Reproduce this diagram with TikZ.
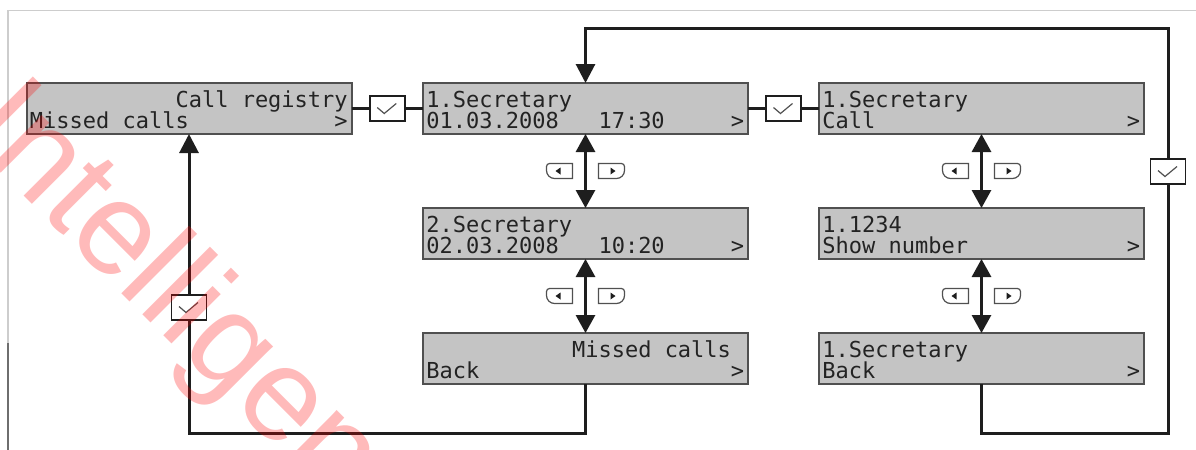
\documentclass[tikz,border=0pt]{standalone}
\usepackage{fontspec}
\newfontfamily\lcdfont{DejaVu Sans Mono}
\newfontfamily\wmfont{Liberation Sans}
\usetikzlibrary{arrows.meta,calc}
\definecolor{lcdgray}{RGB}{196,196,196}
\definecolor{boxline}{RGB}{80,80,80}
\definecolor{linecol}{RGB}{30,30,30}
\definecolor{lcdtext}{RGB}{35,35,35}
\definecolor{framecol}{RGB}{205,205,205}
\definecolor{framedark}{RGB}{110,110,110}
\newcommand\lcdrow[5]{\node[lcdtxt] (#1) at ($(#2.north west)+({3+#3*13.24},{#4})$) {#5};}
\begin{document}
\begin{tikzpicture}[x=0.5pt,y=-0.5pt,
  lcdbox/.style={draw=boxline, fill=lcdgray, line width=1pt, minimum width=162.5pt, minimum height=25.5pt, inner sep=0pt, outer sep=0pt},
  lcdtxt/.style={font=\lcdfont\fontsize{11pt}{13pt}\selectfont, text=lcdtext, inner sep=0pt, anchor=base west},
  conn/.style={line width=1.5pt, draw=linecol},
  arr/.style={conn, -{Triangle[width=9.5pt,length=9.5pt]}},
  dbl/.style={conn, {Triangle[width=9.5pt,length=9pt]}-{Triangle[width=9.5pt,length=9pt]}},
  chk/.style={draw=linecol, fill=white, line width=0.8pt, minimum width=17.5pt, minimum height=12.5pt, inner sep=0pt,
    path picture={\draw[line width=0.6pt, draw=boxline] ([shift={(-10,-1)}]path picture bounding box.center) -- ++(7,6) -- ++(12,-10);}},
  keyline/.style={draw=boxline, line width=0.6pt, fill=white},
  keyleft/.pic={\draw[keyline] (13,-7.5) [rounded corners=1.5pt] -- (-13,-7.5) [rounded corners=4pt] -- (-13,7.5) [sharp corners] -- (13,7.5) -- cycle;
    \fill[linecol] (-4,0) -- (1,-3.5) -- (1,3.5) -- cycle;},
  keyright/.pic={\draw[keyline] (-13,-7.5) [rounded corners=1.5pt] -- (13,-7.5) [rounded corners=4pt] -- (13,7.5) [sharp corners] -- (-13,7.5) -- cycle;
    \fill[linecol] (4,0) -- (-1,-3.5) -- (-1,3.5) -- cycle;},
  wm/.style={font=\wmfont\fontsize{66pt}{66pt}\selectfont, text=red, text opacity=0.27, inner sep=0pt}
]
\useasboundingbox (0,0) rectangle (1196,450);
\clip (0,0) rectangle (1196,450);
% frame
\draw[framecol, line width=0.8pt] (8,343) -- (8,10.5) -- (1196,10.5);
\draw[framedark, line width=0.8pt] (8,343) -- (8,450);

% boxes
\node[lcdbox] (A) at (189,108.5) {};
\node[lcdbox] (B) at (585.5,108.5) {};
\node[lcdbox] (C) at (981.5,108.5) {};
\node[lcdbox] (B2) at (585.5,233.5) {};
\node[lcdbox] (C2) at (981.5,233.5) {};
\node[lcdbox] (B3) at (585.5,358.5) {};
\node[lcdbox] (C3) at (981.5,358.5) {};

% texts
\lcdrow{At1}{A}{11}{24}{Call registry}
\lcdrow{At2}{A}{0}{45}{Missed calls}
\lcdrow{At3}{A}{23}{45}{>}
\lcdrow{Bt1}{B}{0}{24}{1.Secretary}
\lcdrow{Bt2}{B}{0}{45}{01.03.2008}
\lcdrow{Bt3}{B}{13}{45}{17:30}
\lcdrow{Bt4}{B}{23}{45}{>}
\lcdrow{Ct1}{C}{0}{24}{1.Secretary}
\lcdrow{Ct2}{C}{0}{45}{Call}
\lcdrow{Ct3}{C}{23}{45}{>}
\lcdrow{BBt1}{B2}{0}{24}{2.Secretary}
\lcdrow{BBt2}{B2}{0}{45}{02.03.2008}
\lcdrow{BBt3}{B2}{13}{45}{10:20}
\lcdrow{BBt4}{B2}{23}{45}{>}
\lcdrow{CCt1}{C2}{0}{24}{1.1234}
\lcdrow{CCt2}{C2}{0}{45}{Show number}
\lcdrow{CCt3}{C2}{23}{45}{>}
\lcdrow{BBBt1}{B3}{11}{24}{Missed calls}
\lcdrow{BBBt2}{B3}{0}{45}{Back}
\lcdrow{BBBt3}{B3}{23}{45}{>}
\lcdrow{CCCt1}{C3}{0}{24}{1.Secretary}
\lcdrow{CCCt2}{C3}{0}{45}{Back}
\lcdrow{CCCt3}{C3}{23}{45}{>}

% connectors
\coordinate (rt) at (1168,28);
\draw[conn] (A.east) -- (B.west);
\draw[conn] (B.east) -- (C.west);
\draw[dbl] (B.south) -- (B2.north);
\draw[dbl] (B2.south) -- (B3.north);
\draw[dbl] (C.south) -- (C2.north);
\draw[dbl] (C2.south) -- (C3.north);
\draw[arr] (B3.south) -- ++(0,49) -| (A.south);
\draw[arr] (C3.south) -- ++(0,49) -| (rt) -| (B.north);

% confirm keys
\node[chk] (k1) at ($(A.east)!0.5!(B.west)$) {};
\node[chk] (k2) at ($(B.east)!0.5!(C.west)$) {};
\node[chk] (k3) at (189,307.5) {};
\node[chk] (k4) at (1168,171.5) {};

% arrow keys
\pic at (559.5,171) {keyleft};
\pic at (611.5,171) {keyright};
\pic at (559.5,296) {keyleft};
\pic at (611.5,296) {keyright};
\pic at (955.5,171) {keyleft};
\pic at (1007.5,171) {keyright};
\pic at (955.5,296) {keyleft};
\pic at (1007.5,296) {keyright};

% watermark
\node[wm, rotate=-45, anchor=base west] (wm) at (-40,132) {Intelligent};
\end{tikzpicture}
\end{document}
